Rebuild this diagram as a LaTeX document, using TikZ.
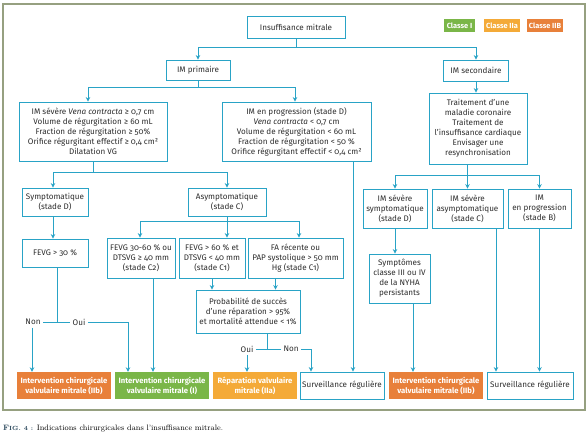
\documentclass[tikz,border=0pt]{standalone}
\usepackage{fontspec}
\newfontfamily\ff[Numbers=OldStyle]{Fira Sans}
\usetikzlibrary{arrows.meta}
\definecolor{blu}{RGB}{41,163,198}
\definecolor{txt}{RGB}{45,45,45}
\definecolor{cI}{RGB}{122,182,72}
\definecolor{cIIa}{RGB}{244,170,56}
\definecolor{cIIb}{RGB}{232,128,58}
\definecolor{frm}{RGB}{150,160,128}
\definecolor{capc}{RGB}{40,70,90}
\begin{document}
\begin{tikzpicture}[x=1pt,y=-1pt,
  bx/.style={draw=blu, line width=0.9pt, fill=white, align=center, inner sep=1pt, text=txt,
     font=\ff\fontsize{8.1}{10}\selectfont},
  cls/.style={fill=#1, text=white, align=center, inner sep=1pt,
     font=\ff\bfseries\fontsize{7.7}{10}\selectfont},
  leg/.style={fill=#1, text=white, align=center, inner sep=1pt,
     font=\ff\bfseries\fontsize{7.4}{8}\selectfont, minimum height=13, minimum width=36},
  lbl/.style={inner sep=2.5pt, text=txt, font=\ff\fontsize{8.1}{10}\selectfont},
  ln/.style={draw=blu, line width=0.9pt},
  arr/.style={ln, -{Stealth[length=4.5pt,width=4.5pt]}}]
\useasboundingbox (0,0) rectangle (588,436);
\draw[frm, line width=1.3pt] (3,4) rectangle (585,410);

% legend
\node[leg=cI, minimum width=31] (lI) at (459.5,25.5) {Classe I};
\node[leg=cIIa] (lIIa) at (502,25.5) {Classe IIa};
\node[leg=cIIb] (lIIb) at (545,25.5) {Classe IIB};

% nodes
\node[bx, minimum width=98, minimum height=22] (top) at (296,27) {Insuffisance mitrale};
\node[bx, minimum width=64, minimum height=20] (prim) at (198,70) {IM primaire};
\node[bx, minimum width=65, minimum height=21] (sec) at (476,70.5) {IM secondaire};
\node[bx, minimum width=148, minimum height=59] (sev) at (93,131.5)
  {IM sévère \textit{Vena contracta} ≥ 0,7 cm\\Volume de régurgitation ≥ 60 mL\\Fraction de régurgitation ≥ 50\%\\Orifice régurgitant effectif ≥ 0,4 cm²\\Dilatation VG};
\node[bx, minimum width=149, minimum height=59] (prog) at (296.5,131.5)
  {IM en progression (stade D)\\\textit{Vena contracta} < 0,7 cm\\Volume de régurgitation < 60 mL\\Fraction de régurgitation < 50 \%\\Orifice régurgitant effectif < 0,4 cm²};
\node[bx, minimum width=98, minimum height=71] (trait) at (478,128.5)
  {Traitement d’une\\maladie coronaire\\Traitement de\\l’insuffisance cardiaque\\Envisager une\\resynchronisation};
\node[bx, minimum width=66, minimum height=28] (sympt) at (55,202) {Symptomatique\\(stade D)};
\node[bx, minimum width=78, minimum height=28] (asympt) at (227,202) {Asymptomatique\\(stade C)};
\node[bx, minimum width=66, minimum height=28] (fevg) at (55,253) {FEVG > 30 \%};
\node[bx, minimum width=68, minimum height=40] (c2) at (141,258) {FEVG 30-60 \% ou\\DTSVG ≥ 40 mm\\(stade C2)};
\node[bx, minimum width=66, minimum height=40] (c1) at (212,258) {FEVG > 60 \% et\\DTSVG < 40 mm\\(stade C1)};
\node[bx, minimum width=95, minimum height=40] (fa) at (295.5,258) {FA récente ou\\PAP systolique > 50 mm\\Hg (stade C1)};
\node[bx, minimum width=104, minimum height=43] (prob) at (248,311.5) {Probabilité de succès\\d’une réparation > 95\%\\et mortalité attendue < 1\%};
\node[bx, minimum width=64, minimum height=39] (sevsym) at (395,208.5) {IM sévère\\symptomatique\\(stade D)};
\node[bx, minimum width=71, minimum height=39] (sevasym) at (467.5,208.5) {IM sévère\\asymptomatique\\(stade C)};
\node[bx, minimum width=63, minimum height=39] (progB) at (539.5,208.5) {IM\\en progression\\(stade B)};
\node[bx, minimum width=61, minimum height=49] (nyha) at (399.5,278.5) {Symptômes\\classe III ou IV\\de la NYHA\\persistants};

% bottom row
\node[cls=cIIb, minimum width=94, minimum height=27] (r1) at (64,385.5) {Intervention chirurgicale\\valvulaire mitrale (IIb)};
\node[cls=cI, minimum width=94, minimum height=27] (r2) at (162,385.5) {Intervention chirurgicale\\valvulaire mitrale (I)};
\node[cls=cIIa, minimum width=84, minimum height=27] (r3) at (255,385.5) {Réparation valvulaire\\mitrale (IIa)};
\node[bx, minimum width=84, minimum height=27] (r4) at (342,385.5) {Surveillance régulière};
\node[cls=cIIb, minimum width=94, minimum height=27] (r5) at (436,385.5) {Intervention chirurgicale\\valvulaire mitrale (IIb)};
\node[bx, minimum width=86, minimum height=27] (r6) at (530,385.5) {Surveillance régulière};

% labels
\node[lbl] (non1) at (33,322) {Non};
\node[lbl] (oui1) at (79,322) {Oui};
\node[lbl] (oui2) at (247,349) {Oui};
\node[lbl] (non2) at (291,349) {Non};

% connectors
\draw[arr] (top.south) -- ++(0,9) -| (prim.north);
\draw[arr] (top.south) -- ++(0,9) -| (sec.north);
\draw[arr] (prim.south) -- ++(0,7) -| ([xshift=-5pt]sev.north);
\draw[arr] (prim.south) -- ++(0,7) -| ([xshift=-1.5pt]prog.north);
\draw[arr] (sec.south) -- (sec.south |- trait.north);
\draw[arr] (trait.south -| sevasym.north) -- (sevasym.north);
\draw[arr] (trait.south -| sevasym.north) -- ++(0,11) -| (sevsym.north);
\draw[arr] (trait.south -| sevasym.north) -- ++(0,11) -| (progB.north);
\draw[arr] (sev.south) -- ++(0,11) -| ([xshift=-2pt]sympt.north);
\draw[arr] (sev.south) -- ++(0,11) -| (asympt.north);
\draw[arr] ([xshift=-2pt]sympt.south) -- ([xshift=-2pt]fevg.north);
\draw[arr] (asympt.south) -- (asympt.south |- c1.north);
\draw[arr] (asympt.south) -- ++(0,5) -| ([xshift=-1pt]c2.north);
\draw[arr] (asympt.south) -- ++(0,5) -| ([xshift=3.5pt]fa.north);
\draw[arr] ([xshift=12pt]c2.south) -- ([xshift=12pt]c2.south |- r2.north);
\draw[arr] (c1.south) -- (c1.south |- prob.north);
\draw[arr] ([xshift=-20pt]fa.south) -- ([xshift=-20pt]fa.south |- prob.north);
\draw[ln] ([xshift=19pt]prob.south) |- (oui2.east);
\draw[ln] ([xshift=19pt]prob.south) |- (non2.west);
\draw[arr] (oui2.south) -- (oui2.south |- r3.north);
\draw[arr] (non2.east) -| ([xshift=-31pt]r4.north);
\draw[ln] ([xshift=2pt]fevg.south) |- (non1.east);
\draw[ln] ([xshift=2pt]fevg.south) |- (oui1.west);
\draw[arr] ([xshift=-1pt]non1.south) -- ([xshift=-1pt]non1.south |- r1.north);
\draw[arr] (oui1.east) -| ([xshift=-34pt]r2.north);
\draw[arr] ([xshift=56.5pt]prog.south) -- ([xshift=56.5pt]prog.south |- r4.north);
\draw[arr] (sevsym.south) -- (sevsym.south |- nyha.north);
\draw[arr] ([xshift=13.5pt]nyha.south) -- ([xshift=13.5pt]nyha.south |- r5.north);
\draw[arr] ([xshift=28.5pt]sevasym.south) -- ([xshift=28.5pt]sevasym.south |- r6.north);
\draw[arr] (progB.south) -- (progB.south |- r6.north);

% caption
\node[anchor=west, inner sep=0pt, font=\fontsize{7.8}{9}\selectfont] (cap) at (3,429)
  {{\color{capc}\bfseries F{\fontsize{6}{7}\selectfont IG. 4 :}} Indications chirurgicales dans l’insuffisance mitrale.};
\end{tikzpicture}
\end{document}
